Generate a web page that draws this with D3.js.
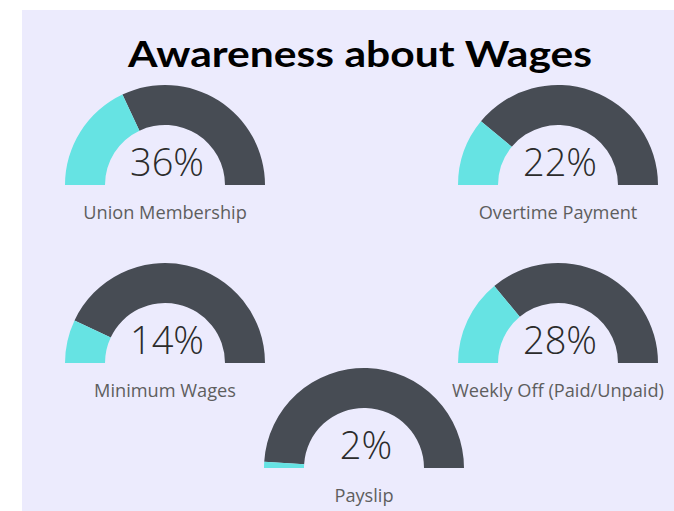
<!DOCTYPE html>
<html>
<head>
<meta charset="utf-8">
<script src="https://cdn.jsdelivr.net/npm/d3@7"></script>
<style>
  body { margin: 0; background: #fff; }
  svg { display: block; }
  .title { font-family: Lato, sans-serif; font-weight: 700; fill: #000; }
  .pct { font-family: 'Open Sans', sans-serif; font-weight: 300; fill: #2b2b2b; }
  .lbl { font-family: 'Open Sans', sans-serif; font-weight: 400; fill: #5e5e5e; }
</style>
</head>
<body>
<svg width="674" height="511"></svg>
<script>
const categories = ['Union Membership', 'Overtime Payment', 'Minimum Wages', 'Weekly Off (Paid/Unpaid)', 'Payslip'];
const values = [36, 22, 14, 28, 2];

// where each gauge sits: column (0 left, 1 middle, 2 right) and row
const slots = [[0, 0], [2, 0], [0, 1], [2, 1], [1, 2]];

const svg = d3.select('svg');
const width = +svg.attr('width');
const height = +svg.attr('height');

svg.append('rect')
    .attr('x', 22).attr('y', 10)
    .attr('width', width - 22).attr('height', height - 10)
    .attr('fill', '#ecebfd');

svg.append('text')
    .attr('class', 'title')
    .attr('x', 360).attr('y', 67)
    .attr('text-anchor', 'middle')
    .attr('font-size', 37)
    .attr('textLength', 464)
    .attr('lengthAdjust', 'spacingAndGlyphs')
    .text('Awareness about Wages');

const xCol = d3.scaleOrdinal().domain([0, 1, 2]).range([165, 364, 558]);
const yRow = d3.scaleOrdinal().domain([0, 1, 2]).range([185, 363, 468]);
const angle = d3.scaleLinear().domain([0, 100]).range([-Math.PI / 2, Math.PI / 2]);

const arc = d3.arc().innerRadius(60).outerRadius(100);

const gauges = svg.selectAll('g.gauge')
    .data(categories.map((c, i) => ({ name: c, value: values[i], slot: slots[i] })))
    .enter().append('g')
        .attr('class', 'gauge')
        .attr('transform', d => `translate(${xCol(d.slot[0])},${yRow(d.slot[1])})`);

gauges.append('path')
    .attr('d', d => arc({ startAngle: angle(d.value), endAngle: angle(100) }))
    .attr('fill', '#474c54');

gauges.append('path')
    .attr('d', d => arc({ startAngle: angle(0), endAngle: angle(d.value) }))
    .attr('fill', '#66e3e3');

gauges.append('text')
    .attr('class', 'pct')
    .attr('x', 2).attr('y', -9)
    .attr('text-anchor', 'middle')
    .attr('font-size', 38)
    .text(d => d.value + '%');

gauges.append('text')
    .attr('class', 'lbl')
    .attr('x', 0).attr('y', 34)
    .attr('text-anchor', 'middle')
    .attr('font-size', 18.2)
    .text(d => d.name);
</script>
</body>
</html>
